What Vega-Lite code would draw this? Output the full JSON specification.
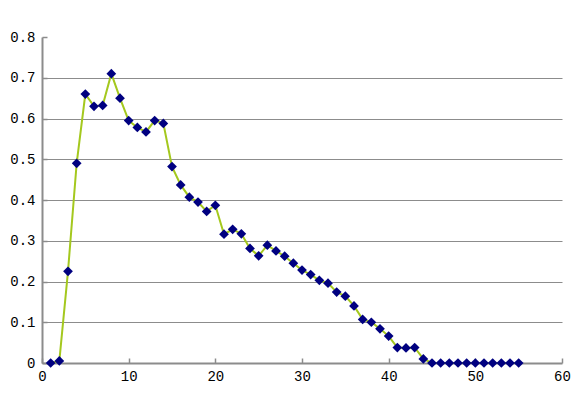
{
  "$schema": "https://vega.github.io/schema/vega-lite/v6.json",
  "width": 520,
  "height": 326,
  "autosize": {"type": "none"},
  "padding": {"left": 42, "top": 37, "right": 14, "bottom": 44},
  "background": "white",
  "config": {
    "view": {"stroke": null},
    "axis": {
      "labelFont": "Liberation Mono",
      "labelFontSize": 14,
      "labelColor": "#000000",
      "domainColor": "#8c8c8c",
      "domainWidth": 2,
      "tickColor": "#8c8c8c",
      "tickWidth": 1.5,
      "gridColor": "#8c8c8c",
      "gridWidth": 1
    }
  },
  "data": {
    "values": [
      {"x": 1, "y": 0}, {"x": 2, "y": 0.005}, {"x": 3, "y": 0.225}, {"x": 4, "y": 0.49},
      {"x": 5, "y": 0.66}, {"x": 6, "y": 0.63}, {"x": 7, "y": 0.632}, {"x": 8, "y": 0.71},
      {"x": 9, "y": 0.65}, {"x": 10, "y": 0.595}, {"x": 11, "y": 0.578}, {"x": 12, "y": 0.567},
      {"x": 13, "y": 0.595}, {"x": 14, "y": 0.588}, {"x": 15, "y": 0.482}, {"x": 16, "y": 0.437},
      {"x": 17, "y": 0.407}, {"x": 18, "y": 0.395}, {"x": 19, "y": 0.372}, {"x": 20, "y": 0.387},
      {"x": 21, "y": 0.316}, {"x": 22, "y": 0.328}, {"x": 23, "y": 0.317}, {"x": 24, "y": 0.281},
      {"x": 25, "y": 0.263}, {"x": 26, "y": 0.289}, {"x": 27, "y": 0.275}, {"x": 28, "y": 0.262},
      {"x": 29, "y": 0.245}, {"x": 30, "y": 0.228}, {"x": 31, "y": 0.217}, {"x": 32, "y": 0.203},
      {"x": 33, "y": 0.196}, {"x": 34, "y": 0.174}, {"x": 35, "y": 0.164}, {"x": 36, "y": 0.14},
      {"x": 37, "y": 0.107}, {"x": 38, "y": 0.1}, {"x": 39, "y": 0.084}, {"x": 40, "y": 0.066},
      {"x": 41, "y": 0.038}, {"x": 42, "y": 0.037}, {"x": 43, "y": 0.038}, {"x": 44, "y": 0.01},
      {"x": 45, "y": 0}, {"x": 46, "y": 0}, {"x": 47, "y": 0}, {"x": 48, "y": 0},
      {"x": 49, "y": 0}, {"x": 50, "y": 0}, {"x": 51, "y": 0}, {"x": 52, "y": 0},
      {"x": 53, "y": 0}, {"x": 54, "y": 0}, {"x": 55, "y": 0}
    ]
  },
  "encoding": {
    "x": {
      "field": "x", "type": "quantitative",
      "scale": {"domain": [0, 60], "nice": false, "zero": true},
      "axis": {"title": null, "values": [0, 10, 20, 30, 40, 50, 60], "tickSize": -5, "labelPadding": 11, "grid": false, "labelFlush": false}
    },
    "y": {
      "field": "y", "type": "quantitative",
      "scale": {"domain": [0, 0.8], "nice": false},
      "axis": {
        "title": null,
        "values": [0, 0.1, 0.2, 0.3, 0.4, 0.5, 0.6, 0.7, 0.8],
        "format": ".1~f",
        "tickSize": -5,
        "labelPadding": 12,
        "grid": true,
        "gridOpacity": {"condition": {"test": "datum.value === 0 || datum.value >= 0.8", "value": 0}, "value": 1},
        "labelFlush": false
      }
    }
  },
  "layer": [
    {"mark": {"type": "line", "color": "#a4c81e", "strokeWidth": 2}},
    {"mark": {"type": "point", "shape": "diamond", "filled": true, "color": "#000080", "opacity": 1, "size": 95}}
  ]
}
